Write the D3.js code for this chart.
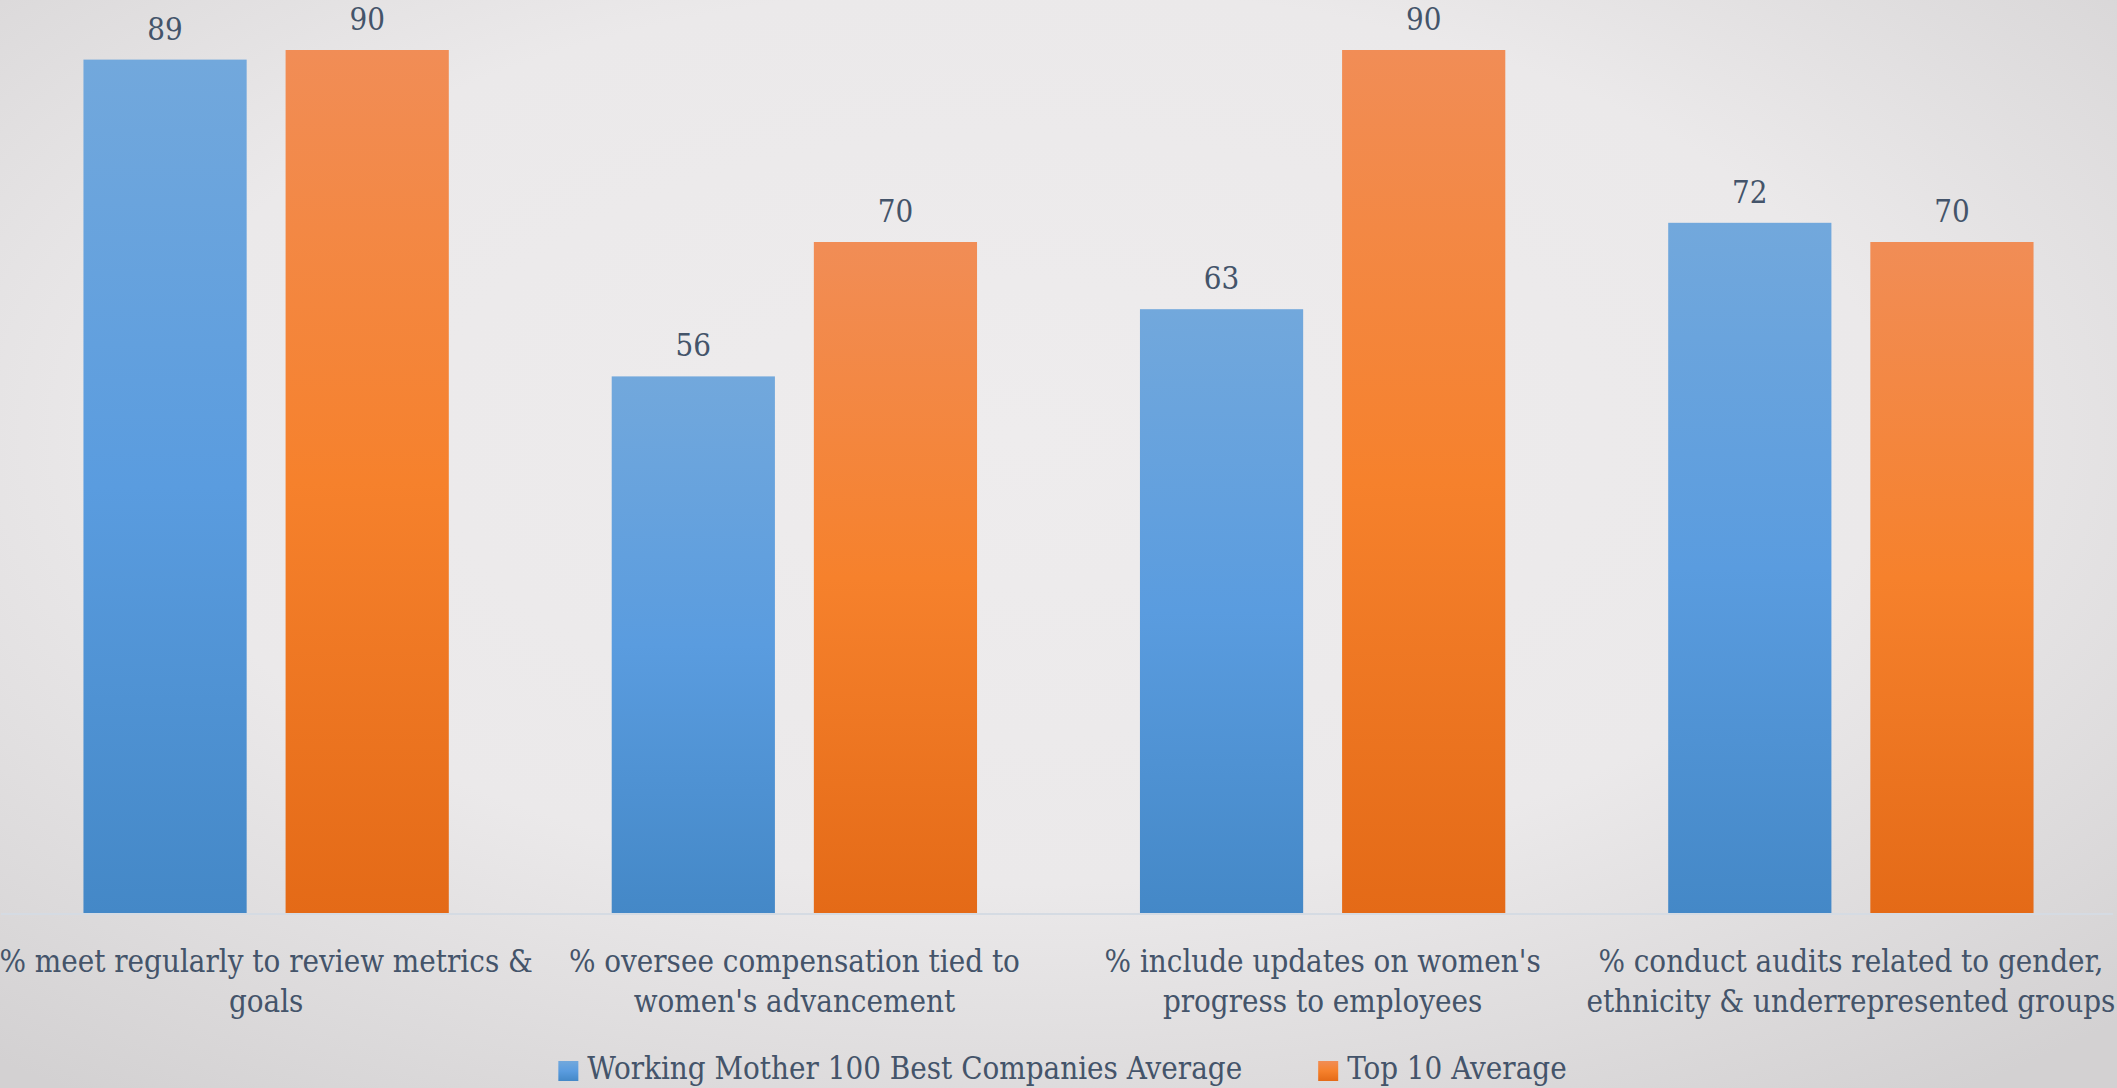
<!DOCTYPE html>
<html>
<head>
<meta charset="utf-8">
<script src="https://cdn.jsdelivr.net/npm/d3@7"></script>
<style>
  html, body { margin: 0; padding: 0; overflow: hidden; }
  svg { display: block; }
  text { font-family: "DejaVu Serif Condensed", "DejaVu Serif", serif; font-stretch: condensed; fill: #44546a; }
</style>
</head>
<body>
<svg id="chart" width="2117" height="1088"></svg>
<script>
// Category labels, one array of lines per category
const categoryLines = [
  ["% meet regularly to review metrics &", "goals"],
  ["% oversee compensation tied to", "women's advancement"],
  ["% include updates on women's", "progress to employees"],
  ["% conduct audits related to gender,", "ethnicity & underrepresented groups"]
];
const seriesNames = ["Working Mother 100 Best Companies Average", "Top 10 Average"];
const best100Values = [89, 56, 63, 72];
const top10Values = [90, 70, 90, 70];

const W = 2117, H = 1088;
const baseY = 914, topY = 50;
const FONT = "'DejaVu Serif Condensed', 'DejaVu Serif', serif";
const FS = "31px";
const svg = d3.select("#chart");
const defs = svg.append("defs");

// Soft vignette background
const bg = defs.append("radialGradient").attr("id", "bg")
  .attr("cx", "48%").attr("cy", "40%").attr("r", "75%");
bg.append("stop").attr("offset", "0%").attr("stop-color", "#eeeced");
bg.append("stop").attr("offset", "55%").attr("stop-color", "#ebe9ea");
bg.append("stop").attr("offset", "100%").attr("stop-color", "#d3d1d2");
svg.append("rect").attr("width", W).attr("height", H).attr("fill", "url(#bg)");

// Vertical gradient fills for the two series
const gradStops = [
  [["0%", "#72a8dc"], ["50%", "#5a9cdf"], ["100%", "#4488c7"]],
  [["0%", "#f18d56"], ["50%", "#f6812c"], ["100%", "#e46a17"]]
];
gradStops.forEach((stops, i) => {
  const g = defs.append("linearGradient").attr("id", "g" + i)
    .attr("x1", 0).attr("y1", 0).attr("x2", 0).attr("y2", 1);
  stops.forEach(s => g.append("stop").attr("offset", s[0]).attr("stop-color", s[1]));
});

const idx = d3.range(categoryLines.length);
const x0 = d3.scaleBand().domain(idx).range([2, W - 2]).paddingInner(0).paddingOuter(0);
const x1 = d3.scaleBand().domain([0, 1]).range([0, x0.bandwidth()])
  .paddingInner(0.1926).paddingOuter(0.403);
const y = d3.scaleLinear().domain([0, 90]).range([baseY, topY]);

const rows = idx.map(i => [best100Values[i], top10Values[i]]);

const groups = svg.append("g").selectAll("g").data(rows).join("g")
  .attr("transform", (d, i) => `translate(${x0(i)},0)`);

groups.selectAll("rect").data(d => d.map((v, s) => ({ v, s }))).join("rect")
  .attr("x", d => x1(d.s))
  .attr("y", d => y(d.v))
  .attr("width", x1.bandwidth())
  .attr("height", d => y(0) - y(d.v))
  .attr("fill", d => `url(#g${d.s})`);

groups.selectAll("text.val").data(d => d.map((v, s) => ({ v, s }))).join("text")
  .attr("class", "val")
  .attr("x", d => x1(d.s) + x1.bandwidth() / 2)
  .attr("y", d => y(d.v) - 20)
  .attr("text-anchor", "middle")
  .style("font-size", FS)
  .text(d => d.v);

// Category axis: baseline rule plus two-line labels
const axis = svg.append("g").attr("transform", `translate(0,${baseY})`)
  .call(d3.axisBottom(x0).tickSize(0).tickFormat(() => ""));
axis.attr("font-family", null);
axis.select(".domain").attr("stroke", "#d5dbe3").attr("stroke-width", 2)
  .attr("d", `M1,0H${W - 4}`);
axis.selectAll(".tick text").remove();
axis.selectAll(".tick").append("text")
  .attr("text-anchor", "middle")
  .style("font-size", FS)
  .style("font-family", FONT)
  .attr("fill", "#44546a")
  .each(function (i) {
    const t = d3.select(this);
    categoryLines[i].forEach((line, k) => {
      t.append("tspan").attr("x", 0).attr("y", 58 + k * 40).text(line);
    });
  });

// Legend, centred under the plot
const legend = svg.append("g");
const items = legend.selectAll("g").data(seriesNames).join("g");
items.append("rect").attr("width", 20).attr("height", 20).attr("y", 1061)
  .attr("fill", (d, i) => `url(#g${i})`);
items.append("text").attr("x", 29).attr("y", 1079)
  .style("font-size", FS).text(d => d);
let cursor = 0;
const offsets = [];
items.each(function () {
  offsets.push(cursor);
  cursor += this.getBBox().width + 76;
});
const total = cursor - 76;
const start = W / 2 - total / 2 + 4;
items.attr("transform", (d, i) => `translate(${start + offsets[i]},0)`);
</script>
</body>
</html>
